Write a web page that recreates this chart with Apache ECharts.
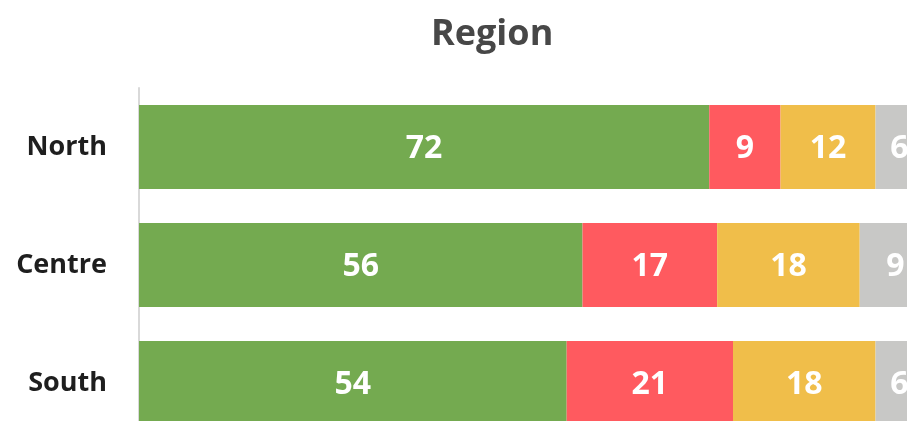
<!DOCTYPE html>
<html>
<head>
<meta charset="utf-8">
<script src="https://cdn.jsdelivr.net/npm/echarts@6/dist/echarts.min.js"></script>
<style>
  html, body { margin: 0; padding: 0; background: #fff; }
  #chart { width: 907px; height: 421px; }
</style>
</head>
<body>
<div id="chart"></div>
<script>
// data
const regions = ['North', 'Centre', 'South']
const greenVals = [72, 56, 54]
const redVals = [9, 17, 21]
const yellowVals = [12, 18, 18]
const greyVals = [6, 9, 6]
const colors = ['#74AA50', '#FF5A5F', '#F0BE4A', '#C8C8C6']

const chart = echarts.init(document.getElementById('chart'))

const labelStyle = {
  show: true,
  position: 'inside',
  offset: [0, 2],
  color: '#fff',
  fontFamily: 'Open Sans',
  fontWeight: 'bold',
  fontSize: 32
}

function makeSeries (name, data, color) {
  return {
    name: name,
    type: 'bar',
    stack: 'total',
    data: data,
    barCategoryGap: '29%',
    itemStyle: { color: color },
    label: labelStyle,
    animation: false
  }
}

chart.setOption({
  title: {
    text: 'Region',
    left: 426,
    top: 12,
    textStyle: {
      fontFamily: 'Open Sans',
      fontWeight: 'bold',
      fontSize: 36,
      color: '#474747'
    }
  },
  grid: {
    left: 139,
    width: 792,
    top: 88,
    height: 354,
    outerBoundsMode: 'none',
    containLabel: false
  },
  xAxis: {
    type: 'value',
    min: 0,
    max: 100,
    show: false
  },
  yAxis: {
    type: 'category',
    data: regions,
    inverse: true,
    axisTick: { show: false },
    axisLine: { lineStyle: { color: '#d9d9d9', width: 2 } },
    axisLabel: {
      margin: 32,
      lineHeight: 40,
      padding: [8, 0, 0, 0],
      fontFamily: 'Open Sans',
      fontWeight: 'bold',
      fontSize: 27,
      color: '#1e1e1e'
    }
  },
  series: [
    makeSeries('a', greenVals, colors[0]),
    makeSeries('b', redVals, colors[1]),
    makeSeries('c', yellowVals, colors[2]),
    makeSeries('d', greyVals, colors[3])
  ]
})
</script>
</body>
</html>
